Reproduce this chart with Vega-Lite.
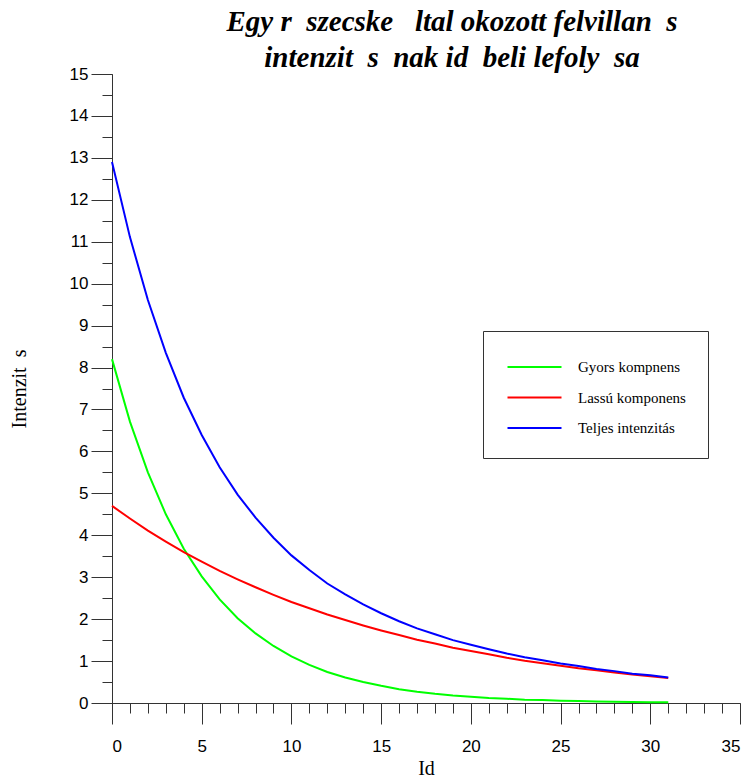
{
  "$schema": "https://vega.github.io/schema/vega-lite/v6.json",
  "width": 628,
  "height": 629,
  "autosize": {"type": "none"},
  "padding": {"left": 112, "top": 74, "right": 13, "bottom": 75},
  "background": "white",
  "title": {
    "text": ["Egy r\u00a0\u00a0szecske\u00a0\u00a0\u00a0ltal okozott felvillan\u00a0\u00a0s", "intenzit\u00a0\u00a0s\u00a0\u00a0nak id\u00a0\u00a0beli lefoly\u00a0\u00a0sa"],
    "font": "Liberation Serif",
    "fontSize": 29,
    "fontStyle": "italic",
    "fontWeight": "bold",
    "color": "black",
    "anchor": "middle",
    "dx": 26,
    "offset": -8,
    "lineHeight": 36
  },
  "config": {"view": {"stroke": null}},
  "data": {
    "values": [
      {"t": 0, "series": "Gyors kompnens", "v": 8.20},
      {"t": 1, "series": "Gyors kompnens", "v": 6.71},
      {"t": 2, "series": "Gyors kompnens", "v": 5.50},
      {"t": 3, "series": "Gyors kompnens", "v": 4.50},
      {"t": 4, "series": "Gyors kompnens", "v": 3.68},
      {"t": 5, "series": "Gyors kompnens", "v": 3.02},
      {"t": 6, "series": "Gyors kompnens", "v": 2.47},
      {"t": 7, "series": "Gyors kompnens", "v": 2.02},
      {"t": 8, "series": "Gyors kompnens", "v": 1.66},
      {"t": 9, "series": "Gyors kompnens", "v": 1.36},
      {"t": 10, "series": "Gyors kompnens", "v": 1.11},
      {"t": 11, "series": "Gyors kompnens", "v": 0.91},
      {"t": 12, "series": "Gyors kompnens", "v": 0.74},
      {"t": 13, "series": "Gyors kompnens", "v": 0.61},
      {"t": 14, "series": "Gyors kompnens", "v": 0.50},
      {"t": 15, "series": "Gyors kompnens", "v": 0.41},
      {"t": 16, "series": "Gyors kompnens", "v": 0.33},
      {"t": 17, "series": "Gyors kompnens", "v": 0.27},
      {"t": 18, "series": "Gyors kompnens", "v": 0.22},
      {"t": 19, "series": "Gyors kompnens", "v": 0.18},
      {"t": 20, "series": "Gyors kompnens", "v": 0.15},
      {"t": 21, "series": "Gyors kompnens", "v": 0.12},
      {"t": 22, "series": "Gyors kompnens", "v": 0.10},
      {"t": 23, "series": "Gyors kompnens", "v": 0.08},
      {"t": 24, "series": "Gyors kompnens", "v": 0.07},
      {"t": 25, "series": "Gyors kompnens", "v": 0.055},
      {"t": 26, "series": "Gyors kompnens", "v": 0.045},
      {"t": 27, "series": "Gyors kompnens", "v": 0.037},
      {"t": 28, "series": "Gyors kompnens", "v": 0.030},
      {"t": 29, "series": "Gyors kompnens", "v": 0.025},
      {"t": 30, "series": "Gyors kompnens", "v": 0.020},
      {"t": 31, "series": "Gyors kompnens", "v": 0.017},
      {"t": 0, "series": "Lassú komponens", "v": 4.70},
      {"t": 1, "series": "Lassú komponens", "v": 4.40},
      {"t": 2, "series": "Lassú komponens", "v": 4.11},
      {"t": 3, "series": "Lassú komponens", "v": 3.85},
      {"t": 4, "series": "Lassú komponens", "v": 3.60},
      {"t": 5, "series": "Lassú komponens", "v": 3.37},
      {"t": 6, "series": "Lassú komponens", "v": 3.15},
      {"t": 7, "series": "Lassú komponens", "v": 2.95},
      {"t": 8, "series": "Lassú komponens", "v": 2.76},
      {"t": 9, "series": "Lassú komponens", "v": 2.58},
      {"t": 10, "series": "Lassú komponens", "v": 2.41},
      {"t": 11, "series": "Lassú komponens", "v": 2.26},
      {"t": 12, "series": "Lassú komponens", "v": 2.11},
      {"t": 13, "series": "Lassú komponens", "v": 1.98},
      {"t": 14, "series": "Lassú komponens", "v": 1.85},
      {"t": 15, "series": "Lassú komponens", "v": 1.73},
      {"t": 16, "series": "Lassú komponens", "v": 1.62},
      {"t": 17, "series": "Lassú komponens", "v": 1.51},
      {"t": 18, "series": "Lassú komponens", "v": 1.42},
      {"t": 19, "series": "Lassú komponens", "v": 1.32},
      {"t": 20, "series": "Lassú komponens", "v": 1.24},
      {"t": 21, "series": "Lassú komponens", "v": 1.16},
      {"t": 22, "series": "Lassú komponens", "v": 1.08},
      {"t": 23, "series": "Lassú komponens", "v": 1.01},
      {"t": 24, "series": "Lassú komponens", "v": 0.95},
      {"t": 25, "series": "Lassú komponens", "v": 0.89},
      {"t": 26, "series": "Lassú komponens", "v": 0.83},
      {"t": 27, "series": "Lassú komponens", "v": 0.78},
      {"t": 28, "series": "Lassú komponens", "v": 0.73},
      {"t": 29, "series": "Lassú komponens", "v": 0.68},
      {"t": 30, "series": "Lassú komponens", "v": 0.64},
      {"t": 31, "series": "Lassú komponens", "v": 0.595},
      {"t": 0, "series": "Teljes intenzitás", "v": 12.90},
      {"t": 1, "series": "Teljes intenzitás", "v": 11.11},
      {"t": 2, "series": "Teljes intenzitás", "v": 9.61},
      {"t": 3, "series": "Teljes intenzitás", "v": 8.35},
      {"t": 4, "series": "Teljes intenzitás", "v": 7.28},
      {"t": 5, "series": "Teljes intenzitás", "v": 6.39},
      {"t": 6, "series": "Teljes intenzitás", "v": 5.62},
      {"t": 7, "series": "Teljes intenzitás", "v": 4.97},
      {"t": 8, "series": "Teljes intenzitás", "v": 4.42},
      {"t": 9, "series": "Teljes intenzitás", "v": 3.94},
      {"t": 10, "series": "Teljes intenzitás", "v": 3.52},
      {"t": 11, "series": "Teljes intenzitás", "v": 3.17},
      {"t": 12, "series": "Teljes intenzitás", "v": 2.85},
      {"t": 13, "series": "Teljes intenzitás", "v": 2.59},
      {"t": 14, "series": "Teljes intenzitás", "v": 2.35},
      {"t": 15, "series": "Teljes intenzitás", "v": 2.14},
      {"t": 16, "series": "Teljes intenzitás", "v": 1.95},
      {"t": 17, "series": "Teljes intenzitás", "v": 1.78},
      {"t": 18, "series": "Teljes intenzitás", "v": 1.64},
      {"t": 19, "series": "Teljes intenzitás", "v": 1.50},
      {"t": 20, "series": "Teljes intenzitás", "v": 1.39},
      {"t": 21, "series": "Teljes intenzitás", "v": 1.28},
      {"t": 22, "series": "Teljes intenzitás", "v": 1.18},
      {"t": 23, "series": "Teljes intenzitás", "v": 1.09},
      {"t": 24, "series": "Teljes intenzitás", "v": 1.02},
      {"t": 25, "series": "Teljes intenzitás", "v": 0.94},
      {"t": 26, "series": "Teljes intenzitás", "v": 0.88},
      {"t": 27, "series": "Teljes intenzitás", "v": 0.81},
      {"t": 28, "series": "Teljes intenzitás", "v": 0.76},
      {"t": 29, "series": "Teljes intenzitás", "v": 0.70},
      {"t": 30, "series": "Teljes intenzitás", "v": 0.66},
      {"t": 31, "series": "Teljes intenzitás", "v": 0.61}
    ]
  },
  "resolve": {"axis": {"x": "independent", "y": "independent"}},
  "layer": [
    {
      "mark": {"type": "line", "opacity": 0},
      "encoding": {
        "x": {"field": "t", "type": "quantitative", "scale": {"domain": [0, 35], "nice": false},
          "axis": {"orient": "bottom", "values": [0,1,2,3,4,5,6,7,8,9,10,11,12,13,14,15,16,17,18,19,20,21,22,23,24,25,26,27,28,29,30,31,32,33,34,35],
            "labels": false, "domain": false, "grid": false, "tickSize": 10, "tickColor": "#333333", "tickWidth": 1, "title": null}},
        "y": {"field": "v", "type": "quantitative", "scale": {"domain": [0, 15], "nice": false},
          "axis": {"orient": "left", "values": [0,0.5,1,1.5,2,2.5,3,3.5,4,4.5,5,5.5,6,6.5,7,7.5,8,8.5,9,9.5,10,10.5,11,11.5,12,12.5,13,13.5,14,14.5,15],
            "labels": false, "domain": false, "grid": false, "tickSize": 10, "tickColor": "#333333", "tickWidth": 1, "title": null}},
        "detail": {"field": "series"}
      }
    },
    {
      "mark": {"type": "line"},
      "encoding": {
        "x": {"field": "t", "type": "quantitative", "scale": {"domain": [0, 35], "nice": false},
          "axis": {"orient": "bottom", "values": [0,5,10,15,20,25,30,35], "grid": false, "tickSize": 21, "tickColor": "#333333", "tickWidth": 1,
            "domainColor": "#333333", "domainWidth": 1, "labelFont": "Liberation Sans", "labelFontSize": 17, "labelColor": "black", "labelPadding": 14,
            "title": "Id", "titleFont": "Liberation Serif", "titleFontSize": 20, "titleFontWeight": "normal", "titleColor": "black", "titlePadding": 4}},
        "y": {"field": "v", "type": "quantitative", "scale": {"domain": [0, 15], "nice": false},
          "axis": {"orient": "left", "values": [0,1,2,3,4,5,6,7,8,9,10,11,12,13,14,15], "grid": false, "tickSize": 21, "tickColor": "#333333", "tickWidth": 1,
            "domainColor": "#333333", "domainWidth": 1, "labelFont": "Liberation Sans", "labelFontSize": 17, "labelColor": "black", "labelPadding": 3,
            "title": "Intenzit\u00a0\u00a0s", "titleFont": "Liberation Serif", "titleFontSize": 20, "titleFontWeight": "normal", "titleColor": "black", "titlePadding": 40}},
        "color": {"field": "series", "type": "nominal",
          "scale": {"domain": ["Gyors kompnens", "Lassú komponens", "Teljes intenzitás"], "range": ["#00ff00", "#ff0000", "#0000ff"]},
          "legend": {"title": null, "orient": "none", "legendX": 371, "legendY": 257, "symbolType": "M-2,0L2,0", "symbolSize": 729,
            "labelFont": "Liberation Serif", "labelFontSize": 15, "labelColor": "black", "labelOffset": 29, "padding": 21.5, "rowPadding": 7.5, "symbolOffset": 15.5,
            "labelExpr": "datum.label + '\u00a0\u00a0'",
            "strokeColor": "#333333", "fillColor": "white", "cornerRadius": 0}},
        "strokeWidth": {"field": "series", "type": "nominal",
          "scale": {"domain": ["Gyors kompnens", "Lassú komponens", "Teljes intenzitás"], "range": [2, 2, 4]},
          "legend": {"title": null, "orient": "none", "legendX": 371, "legendY": 257, "symbolType": "M-2,0L2,0", "symbolSize": 729,
            "labelFont": "Liberation Serif", "labelFontSize": 15, "labelColor": "black", "labelOffset": 29, "padding": 21.5, "rowPadding": 7.5, "symbolOffset": 15.5,
            "labelExpr": "datum.label + '\u00a0\u00a0'",
            "strokeColor": "#333333", "fillColor": "white", "cornerRadius": 0}}
      }
    }
  ]
}
